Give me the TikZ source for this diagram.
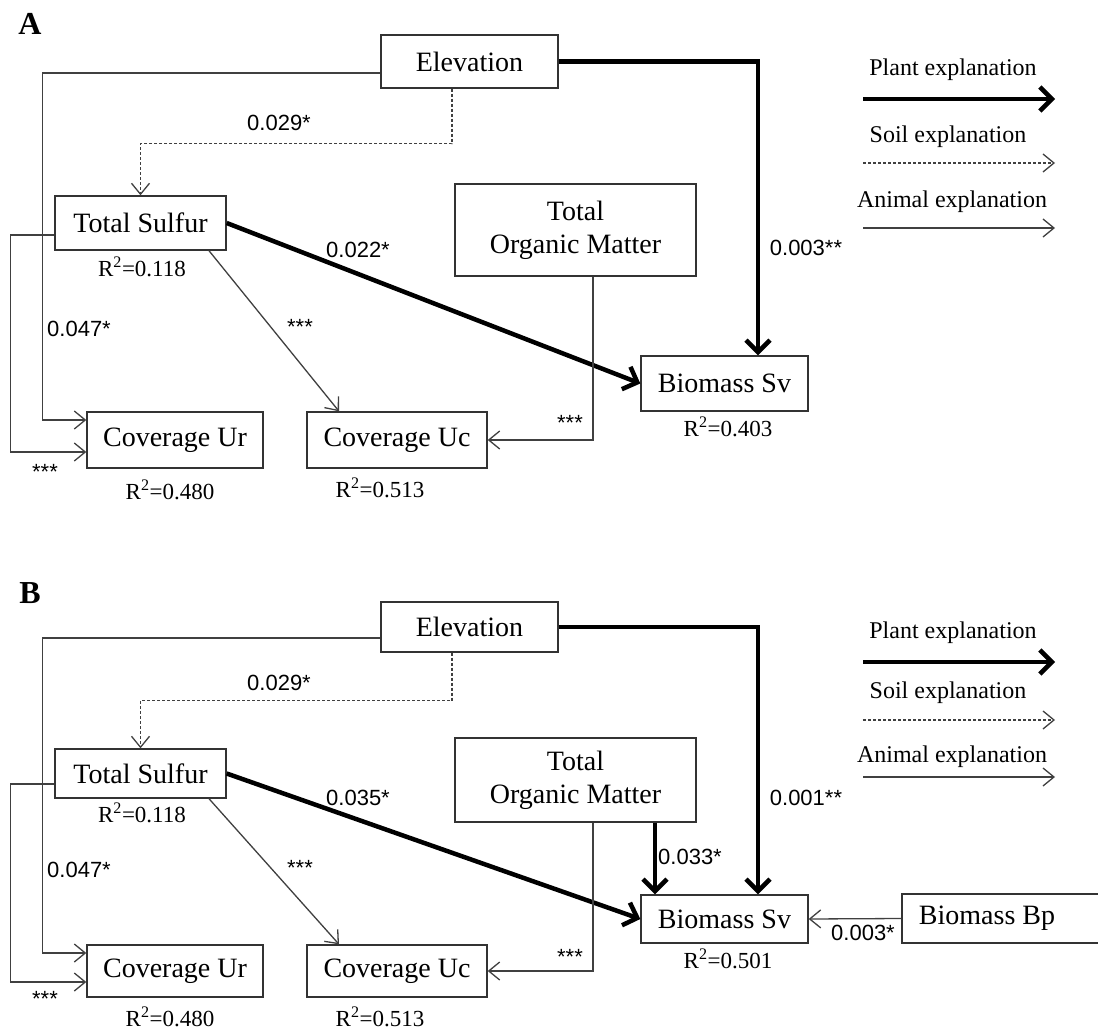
\documentclass[tikz,border=0pt]{standalone}
\usepackage{fontspec}
\setmainfont{Liberation Serif}
\setsansfont{Liberation Sans}
\usetikzlibrary{arrows.meta,positioning}

\tikzset{
  var/.style={draw=black!80, line width=1.4pt, fill=white, inner sep=0pt,
    align=center, font=\fontsize{28}{33}\selectfont},
  plant/.style={line width=4.5pt, -{Straight Barb[length=12pt,width=24pt]}},
  soil/.style={line width=1.3pt, black!75, dash pattern=on 3pt off 2pt,
    -{Straight Barb[length=11pt,width=18pt]}},
  animal/.style={line width=1.3pt, black!75, -{Straight Barb[length=11pt,width=18pt]}},
  pval/.style={font=\sffamily\fontsize{22}{25}\selectfont},
  rsq/.style={font=\fontsize{23}{26}\selectfont},
  legend/.style={font=\fontsize{24}{27}\selectfont},
  panel/.style={font=\bfseries\fontsize{32}{36}\selectfont},
}

\begin{document}
\begin{tikzpicture}[x=1pt, y=-1pt]
  \useasboundingbox (0,0) rectangle (1098,1030);

  % ---------- A ----------
  \node[panel] (labA) at (30,24) {A};
  \node[var, minimum width=177pt, minimum height=53pt] (elevA) at (469.5,61.5) {Elevation};
  \node[var, minimum width=171pt, minimum height=54pt] (sulA) at (140.5,223) {Total Sulfur};
  \node[var, minimum width=241pt, minimum height=92pt] (tomA) at (575.5,230) {Total\\Organic Matter};
  \node[var, minimum width=167pt, minimum height=55pt] (bioA) at (724.5,383.5) {Biomass Sv};
  \node[var, minimum width=176pt, minimum height=56pt] (covUrA) at (175,440) {Coverage Ur};
  \node[var, minimum width=180pt, minimum height=56pt] (covUcA) at (397,440) {Coverage Uc};

  \draw[animal] ([yshift=-11.5pt]elevA.west) -| ([xshift=-44pt,yshift=20pt]covUrA.west)
    -- ([yshift=20pt]covUrA.west);
  \draw[animal] ([yshift=-12pt]sulA.west) -| ([xshift=-76pt,yshift=-12pt]covUrA.west)
    -- ([yshift=-12pt]covUrA.west);
  \draw[soil] ([xshift=-17.5pt]elevA.south) -- ++(0,-55pt) -| (sulA.north);
  \draw[plant] (elevA.east) -| ([xshift=33.5pt]bioA.north);
  \draw[plant] (sulA.east) -- (bioA.west);
  \draw[animal] ([xshift=68.5pt]sulA.south) -- ([xshift=-58pt]covUcA.north);
  \draw[animal] ([xshift=17.5pt]tomA.south) |- (covUcA.east);

  \node[pval] (pA1) at (279,123) {0.029*};
  \node[pval] (pA2) at (358,250) {0.022*};
  \node[pval] (pA3) at (806,248) {0.003**};
  \node[pval] (pA4) at (79,329) {0.047*};
  \node[pval] (pA5) at (300,327) {***};
  \node[pval] (pA6) at (45,472) {***};
  \node[pval] (pA7) at (570,423) {***};

  \node[rsq] (rA1) at (142,267) {R\textsuperscript{2}=0.118};
  \node[rsq] (rA2) at (170,490) {R\textsuperscript{2}=0.480};
  \node[rsq] (rA3) at (380,488) {R\textsuperscript{2}=0.513};
  \node[rsq] (rA4) at (728,427) {R\textsuperscript{2}=0.403};

  % legend A
  \node[legend] (lgA1) at (953,70) {Plant explanation};
  \node[legend] (lgA2) at (948,137) {Soil explanation};
  \node[legend] (lgA3) at (952,202) {Animal explanation};
  \coordinate (plantA1) at (863,99);  \coordinate (plantA2) at (1055,99);
  \coordinate (soilA1) at (863,163);  \coordinate (soilA2) at (1055,163);
  \coordinate (animA1) at (863,228);  \coordinate (animA2) at (1055,228);
  \draw[plant] (plantA1) -- (plantA2);
  \draw[soil] (soilA1) -- (soilA2);
  \draw[animal] (animA1) -- (animA2);

  % ---------- B ----------
  \node[panel] (labB) at (30,593) {B};
  \node[var, minimum width=177pt, minimum height=50pt] (elevB) at (469.5,627) {Elevation};
  \node[var, minimum width=171pt, minimum height=49pt] (sulB) at (140.5,773.5) {Total Sulfur};
  \node[var, minimum width=241pt, minimum height=84pt] (tomB) at (575.5,780) {Total\\Organic Matter};
  \node[var, minimum width=167pt, minimum height=48pt] (bioB) at (724.5,919) {Biomass Sv};
  \node[var, minimum width=198pt, minimum height=49pt] (bpB) at (1001,918.5) {Biomass Bp\hspace*{28pt}};
  \node[var, minimum width=176pt, minimum height=52pt] (covUrB) at (175,971) {Coverage Ur};
  \node[var, minimum width=180pt, minimum height=52pt] (covUcB) at (397,971) {Coverage Uc};

  \draw[animal] ([yshift=-11pt]elevB.west) -| ([xshift=-44pt,yshift=18pt]covUrB.west)
    -- ([yshift=18pt]covUrB.west);
  \draw[animal] ([yshift=-10.5pt]sulB.west) -| ([xshift=-76pt,yshift=-11pt]covUrB.west)
    -- ([yshift=-11pt]covUrB.west);
  \draw[soil] ([xshift=-17.5pt]elevB.south) -- ++(0,-48pt) -| (sulB.north);
  \draw[plant] (elevB.east) -| ([xshift=33.5pt]bioB.north);
  \draw[plant] (sulB.east) -- (bioB.west);
  \draw[plant] ([xshift=79.5pt]tomB.south) -- ([xshift=-69.5pt]bioB.north);
  \draw[animal] ([xshift=68.5pt]sulB.south) -- ([xshift=-58pt]covUcB.north);
  \draw[animal] ([xshift=17.5pt]tomB.south) |- (covUcB.east);
  \draw[animal] (bpB.west) -- (bioB.east);

  \node[pval] (pB1) at (279,683) {0.029*};
  \node[pval] (pB2) at (358,798) {0.035*};
  \node[pval] (pB3) at (806,798) {0.001**};
  \node[pval] (pB4) at (690,857) {0.033*};
  \node[pval] (pB5) at (79,870) {0.047*};
  \node[pval] (pB6) at (300,868) {***};
  \node[pval] (pB7) at (45,999) {***};
  \node[pval] (pB8) at (570,957) {***};
  \node[pval] (pB9) at (863,933) {0.003*};

  \node[rsq] (rB1) at (142,813) {R\textsuperscript{2}=0.118};
  \node[rsq] (rB2) at (170,1017) {R\textsuperscript{2}=0.480};
  \node[rsq] (rB3) at (380,1017) {R\textsuperscript{2}=0.513};
  \node[rsq] (rB4) at (728,959) {R\textsuperscript{2}=0.501};

  % legend B
  \node[legend] (lgB1) at (953,633) {Plant explanation};
  \node[legend] (lgB2) at (948,693) {Soil explanation};
  \node[legend] (lgB3) at (952,757) {Animal explanation};
  \coordinate (plantB1) at (863,662);  \coordinate (plantB2) at (1055,662);
  \coordinate (soilB1) at (863,720);  \coordinate (soilB2) at (1055,720);
  \coordinate (animB1) at (863,777);  \coordinate (animB2) at (1055,777);
  \draw[plant] (plantB1) -- (plantB2);
  \draw[soil] (soilB1) -- (soilB2);
  \draw[animal] (animB1) -- (animB2);
\end{tikzpicture}
\end{document}
